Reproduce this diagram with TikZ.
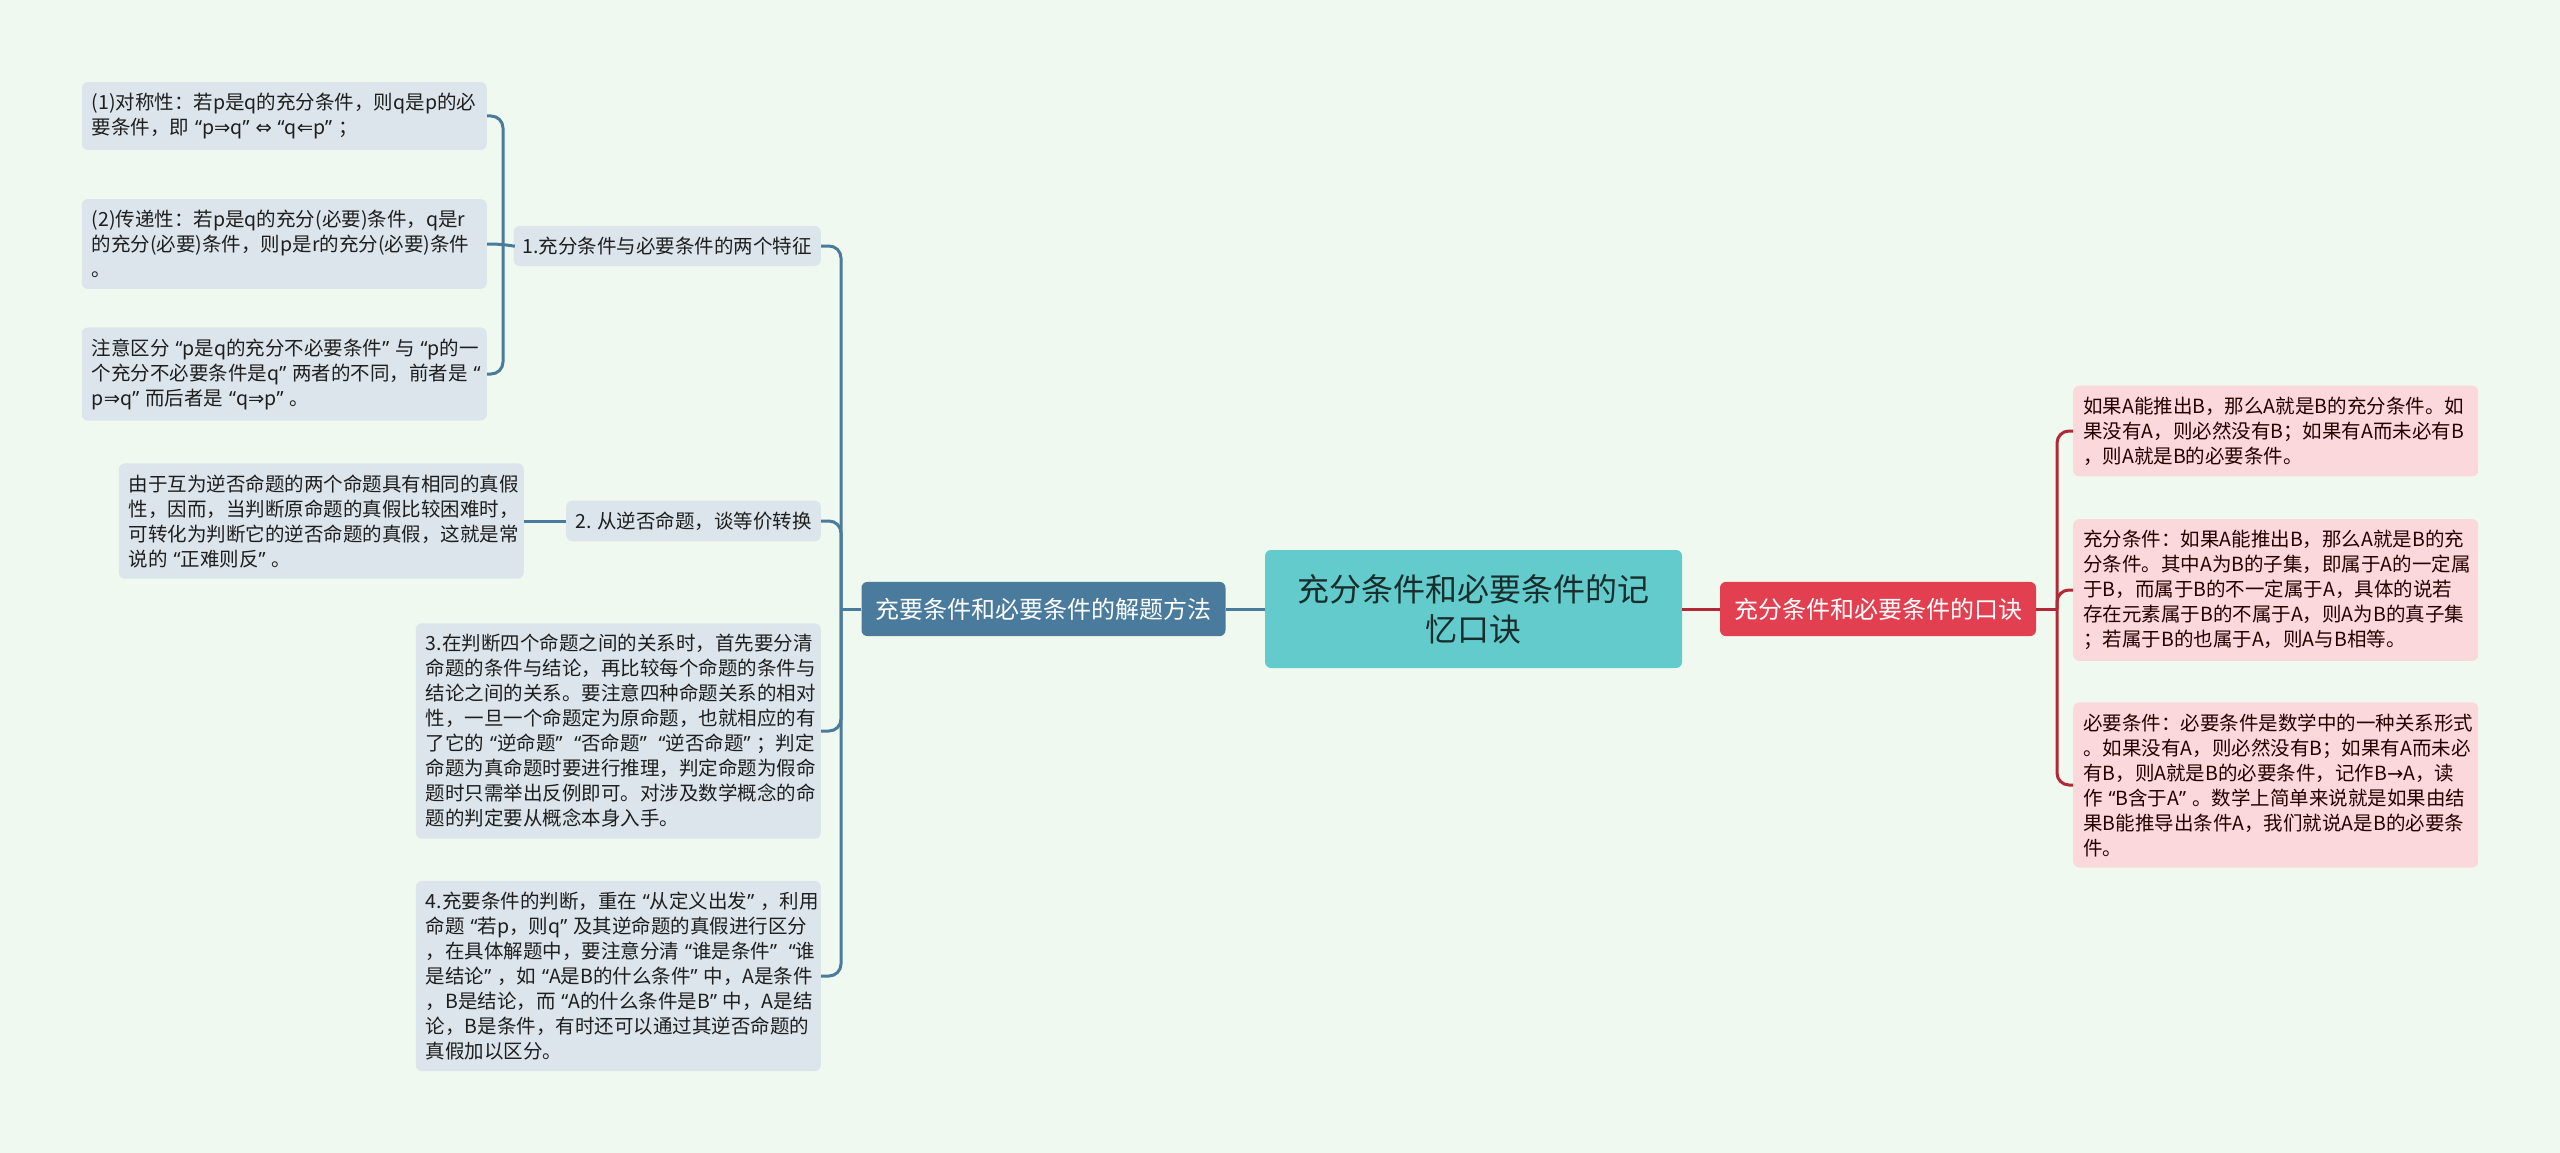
\documentclass[tikz,border=0pt]{standalone}
\usepackage{fontspec}
\setmainfont{Noto Sans CJK SC}
\newfontfamily\symfont{DejaVu Sans}
\newfontfamily\qfont{Noto Sans}

\definecolor{bgcol}{RGB}{240,249,239}
\definecolor{leafblue}{RGB}{220,229,236}
\definecolor{branchblue}{RGB}{74,123,157}
\definecolor{rootteal}{RGB}{99,203,204}
\definecolor{branchred}{RGB}{226,64,80}
\definecolor{leafpink}{RGB}{250,216,220}
\definecolor{linered}{RGB}{178,40,52}
\definecolor{darktext}{RGB}{30,30,30}

% curly quotes, half wide as in the picture
\catcode`“=\active
\catcode`”=\active
\def“{{\kern0.3em\qfont\char"201C}}
\def”{{\qfont\char"201D\kern0.3em}}

\tikzset{
	leafbox/.style={fill=leafblue,rounded corners=6pt,text width=385pt,align=left,inner xsep=10pt,inner ysep=11pt,font=\fontsize{19.5}{25}\selectfont,text=darktext},
	pinkbox/.style={leafbox,fill=leafpink,text=black!85!red},
	subbox/.style={fill=leafblue,rounded corners=6pt,inner xsep=9pt,inner ysep=11pt,font=\fontsize{19.5}{25}\selectfont,text=darktext},
	mainbox/.style={rounded corners=6pt,inner xsep=14pt,inner ysep=16pt,font=\fontsize{24}{30}\selectfont,text=white},
	rootbox/.style={fill=rootteal,rounded corners=6pt,text width=362pt,inner xsep=27.5pt,align=center,minimum height=118pt,font=\fontsize{32}{40}\selectfont,text=darktext!85!teal},
	lline/.style={draw=branchblue,line width=3pt,rounded corners=12pt},
	rline/.style={draw=linered,line width=3pt,rounded corners=12pt}
}

\begin{document}
\begin{tikzpicture}[x=1pt,y=1pt]
		\fill [bgcol] (0,0) rectangle (2560,-1153);
		\useasboundingbox (0,0) rectangle (2560,-1153);
		%
		\node [rootbox] (root) at (1473.5,-609) {充分条件和必要条件的记\\忆口诀};
		\node [mainbox,fill=branchblue] (lmain) at (1043.5,-609) {充要条件和必要条件的解题方法};
		\node [mainbox,fill=branchred] (rmain) at (1878,-609) {充分条件和必要条件的口诀};
		\draw [lline] (root.west) -- (lmain.east);
		\draw [rline] (root.east) -- (rmain.west);
		%
		\begin{scope}
			\node [subbox,anchor=east] (s1) at (821,-246) {1.充分条件与必要条件的两个特征};
			\node [subbox,anchor=east] (s2) at (821,-521) {2. 从逆否命题，谈等价转换};
			\node [leafbox,anchor=east] (s3) at (821,-731) {3.在判断四个命题之间的关系时，首先要分清\\命题的条件与结论，再比较每个命题的条件与\\结论之间的关系。要注意四种命题关系的相对\\性，一旦一个命题定为原命题，也就相应的有\\了它的“逆命题”“否命题”“逆否命题”；判定\\命题为真命题时要进行推理，判定命题为假命\\题时只需举出反例即可。对涉及数学概念的命\\题的判定要从概念本身入手。};
			\node [leafbox,anchor=east] (s4) at (821,-976) {4.充要条件的判断，重在“从定义出发”，利用\\命题“若p，则q”及其逆命题的真假进行区分\\，在具体解题中，要注意分清“谁是条件”“谁\\是结论”，如“A是B的什么条件”中，A是条件\\，B是结论，而“A的什么条件是B”中，A是结\\论，B是条件，有时还可以通过其逆否命题的\\真假加以区分。};
			\node [leafbox,anchor=east] (b1) at (487,-116) {(1)对称性：若p是q的充分条件，则q是p的必\\要条件，即“p{\symfont ⇒}q”{\symfont ⇔}“q{\symfont ⇐}p”；};
			\node [leafbox,anchor=east] (b2) at (487,-244) {(2)传递性：若p是q的充分(必要)条件，q是r\\的充分(必要)条件，则p是r的充分(必要)条件\\。};
			\node [leafbox,anchor=east] (b3) at (487,-374) {注意区分“p是q的充分不必要条件”与“p的一\\个充分不必要条件是q”两者的不同，前者是“\\p{\symfont ⇒}q”而后者是“q{\symfont ⇒}p”。};
			\node [leafbox,anchor=east] (l2) at (524,-521) {由于互为逆否命题的两个命题具有相同的真假\\性，因而，当判断原命题的真假比较困难时，\\可转化为判断它的逆否命题的真假，这就是常\\说的“正难则反”。};
			%
			\coordinate (lj) at (841,-609);
			\draw [lline] (lmain.west) -- (lj);
			\draw [lline] (lj) |- (s1.east);
			\draw [lline] (lj) |- (s2.east);
			\draw [lline] (lj) |- (s3.east);
			\draw [lline] (lj) |- (s4.east);
			\coordinate (j1) at (503,-246);
			\draw [lline] (s1.west) -- (j1 |- b2.east) -- (b2.east);
			\draw [lline] (j1) |- (b1.east);
			\draw [lline] (j1) |- (b3.east);
			\draw [lline] (s2.west) -- (l2.east);
		\end{scope}
		%
		\begin{scope}
			\node [pinkbox,anchor=west] (r1) at (2073,-431) {如果A能推出B，那么A就是B的充分条件。如\\果没有A，则必然没有B；如果有A而未必有B\\，则A就是B的必要条件。};
			\node [pinkbox,anchor=west] (r2) at (2073,-590) {充分条件：如果A能推出B，那么A就是B的充\\分条件。其中A为B的子集，即属于A的一定属\\于B，而属于B的不一定属于A，具体的说若\\存在元素属于B的不属于A，则A为B的真子集\\；若属于B的也属于A，则A与B相等。};
			\node [pinkbox,anchor=west] (r3) at (2073,-785) {必要条件：必要条件是数学中的一种关系形式\\。如果没有A，则必然没有B；如果有A而未必\\有B，则A就是B的必要条件，记作B{\symfont →}A，读\\作“B含于A”。数学上简单来说就是如果由结\\果B能推导出条件A，我们就说A是B的必要条\\件。};
			%
			\coordinate (rj) at (2057,-609);
			\draw [rline] (rmain.east) -- (rj);
			\draw [rline] (rj) |- (r1.west);
			\draw [rline] (rj) |- (r2.west);
			\draw [rline] (rj) |- (r3.west);
		\end{scope}
	\end{tikzpicture}
\end{document}
